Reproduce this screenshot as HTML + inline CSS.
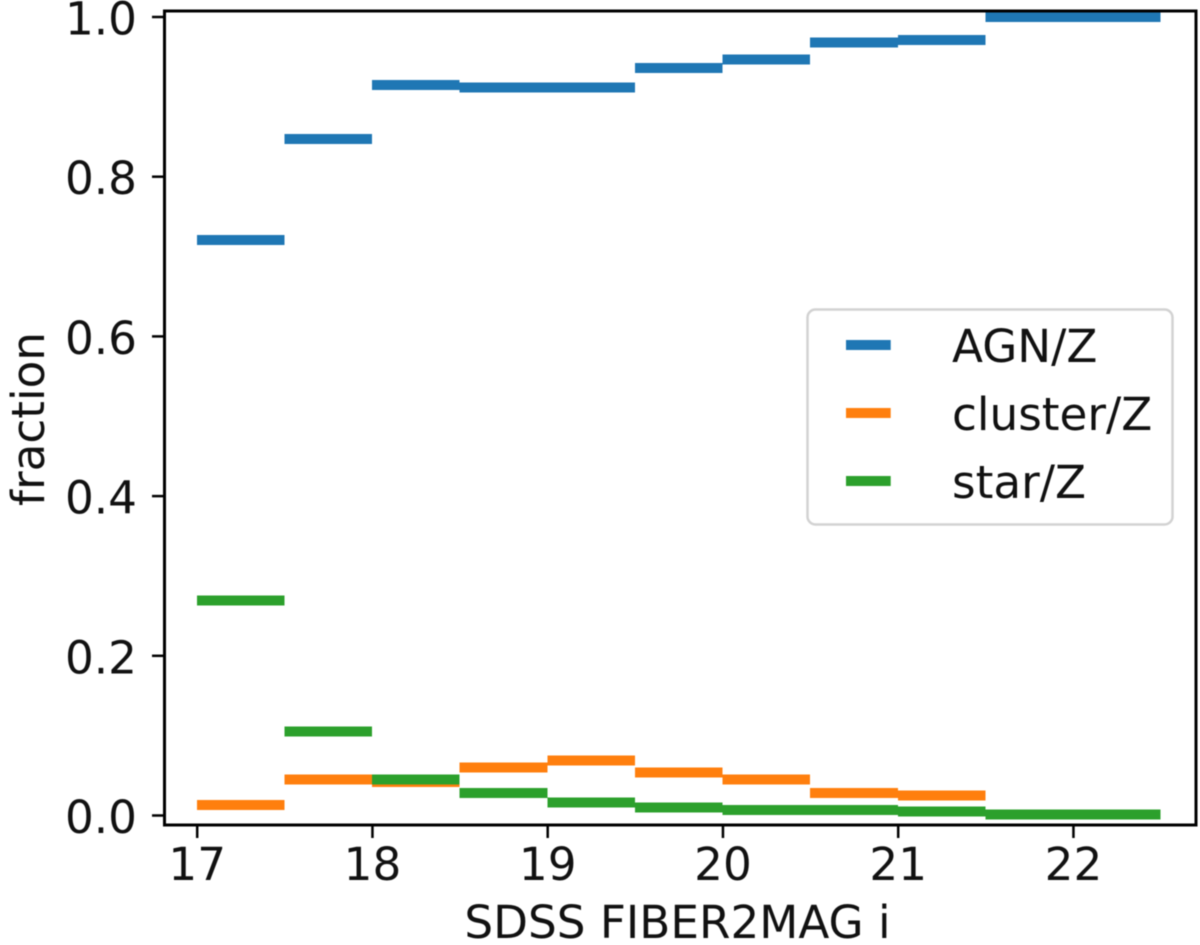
<!DOCTYPE html>
<html lang="en">
<head>
<meta charset="utf-8">
<title>Fraction by SDSS FIBER2MAG i</title>
<style>
html,body{margin:0;padding:0;background:#fff;}
svg{display:block;filter:blur(0.5px);}
text{font-family:"DejaVu Sans","Liberation Sans",sans-serif;font-size:45.3px;fill:#111;}
#marks line{shape-rendering:crispEdges;}
</style>
</head>
<body>
<svg id="chart" xmlns="http://www.w3.org/2000/svg" width="1200" height="945" viewBox="0 0 1200 945">
  <g id="marks"></g>
  <rect x="164.5" y="11" width="1031.5" height="814" fill="none" stroke="#000" stroke-width="3"/>
  <g id="ticks"></g>
  <text x="677.5" y="938" text-anchor="middle">SDSS FIBER2MAG i</text>
  <text transform="translate(44 419) rotate(-90)" text-anchor="middle">fraction</text>
  <g>
    <rect x="807.5" y="309.5" width="365" height="215" rx="8" ry="8" fill="#fff" stroke="#d2d2d2" stroke-width="2.5"/>
    <g id="legend-entries"></g>
  </g>
</svg>
<script>
const binEdges = [17, 17.5, 18, 18.5, 19, 19.5, 20, 20.5, 21, 21.5, 22, 22.5];
const agnValues = [0.721, 0.847, 0.915, 0.912, 0.912, 0.936, 0.947, 0.968, 0.971, 1.0, 1.0];
const clusterValues = [0.013, 0.045, 0.042, 0.060, 0.069, 0.054, 0.045, 0.028, 0.025, 0.001, 0.001];
const starValues = [0.269, 0.105, 0.045, 0.028, 0.016, 0.010, 0.007, 0.007, 0.005, 0.001, 0.001];
const seriesNames = ["AGN/Z", "cluster/Z", "star/Z"];
const xTickValues = [17, 18, 19, 20, 21, 22];
const yTickValues = [0.0, 0.2, 0.4, 0.6, 0.8, 1.0];

const NS = "http://www.w3.org/2000/svg";
const xScale = function (v) { return 196.8 + 175.25 * (v - 17); };
const yScale = function (v) { return 815.5 - 798.5 * v; };
const seriesColors = ["#1f77b4", "#ff7f0e", "#2ca02c"];
const seriesData = [agnValues, clusterValues, starValues];
const seriesKeys = ["agn", "cluster", "star"];

function makeLine(x1, y1, x2, y2, color, width) {
  const l = document.createElementNS(NS, "line");
  l.setAttribute("x1", x1);
  l.setAttribute("y1", y1);
  l.setAttribute("x2", x2);
  l.setAttribute("y2", y2);
  l.setAttribute("stroke", color);
  l.setAttribute("stroke-width", width);
  return l;
}

function makeText(x, y, anchor, content) {
  const t = document.createElementNS(NS, "text");
  t.setAttribute("x", x);
  t.setAttribute("y", y);
  t.setAttribute("text-anchor", anchor);
  t.textContent = content;
  return t;
}

const marks = document.getElementById("marks");
seriesData.forEach(function (values, s) {
  values.forEach(function (v, i) {
    const bar = makeLine(xScale(binEdges[i]), yScale(v), xScale(binEdges[i + 1]), yScale(v), seriesColors[s], 10);
    
    
    bar.setAttribute("class", "series-" + seriesKeys[s]);
    marks.appendChild(bar);
  });
});

const ticks = document.getElementById("ticks");
xTickValues.forEach(function (v) {
  const x = xScale(v) + 0.4;
  const tick = makeLine(x, 825, x, 838, "#000", 2.5);
  
  
  ticks.appendChild(tick);
  const label = makeText(x, 880, "middle", String(v));
  
  
  ticks.appendChild(label);
});
yTickValues.forEach(function (v) {
  const y = yScale(v);
  const tick = makeLine(152, y, 164.5, y, "#000", 2.5);
  
  
  ticks.appendChild(tick);
  const label = makeText(137, y + 17.5, "end", v.toFixed(1));
  
  
  ticks.appendChild(label);
});

const legendEntries = document.getElementById("legend-entries");
seriesNames.forEach(function (name, s) {
  const cy = 345 + 68 * s;
  const handle = makeLine(846, cy, 890.7, cy, seriesColors[s], 10);
  
  
  legendEntries.appendChild(handle);
  const label = makeText(952, cy + 17, "start", name);
  
  
  legendEntries.appendChild(label);
});
</script>
</body>
</html>
